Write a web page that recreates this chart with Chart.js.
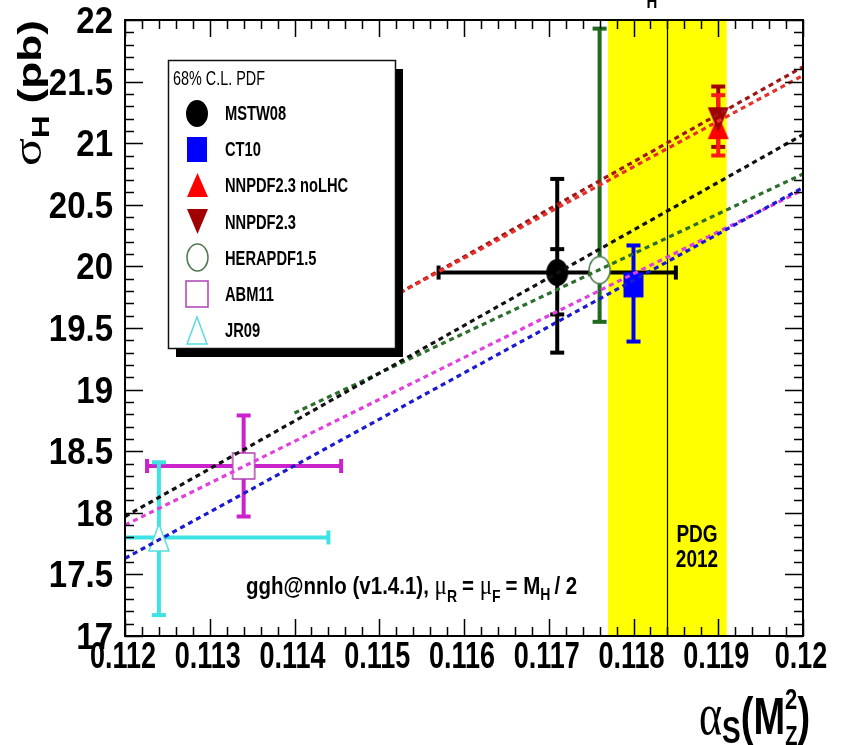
<!DOCTYPE html>
<html>
<head>
<meta charset="utf-8">
<script src="https://cdn.jsdelivr.net/npm/chart.js@4/dist/chart.umd.min.js"></script>
<style>
  html, body { margin: 0; padding: 0; background: #ffffff; }
  canvas { display: block; }
</style>
</head>
<body>
<canvas id="c" width="844" height="745"></canvas>
<script>
// ---- data: ggH cross section vs alpha_s for each PDF set ----
const pdfNames  = ['MSTW08', 'CT10', 'NNPDF2.3 noLHC', 'NNPDF2.3', 'HERAPDF1.5', 'ABM11', 'JR09'];
const alphaS    = [0.1171, 0.1180, 0.1190, 0.1190, 0.1176, 0.1134, 0.1124];
const sigmaH    = [19.95, 19.85, 21.13, 21.19, 19.97, 18.38, 17.80];
const sigmaUp   = [20.71, 20.17, 21.39, 21.46, 21.93, 18.79, 18.41];
const sigmaDown = [19.30, 19.39, 20.90, 20.97, 19.55, 17.97, 17.17];
const alphaLow  = [0.1157, null, null, null, null, 0.11226, 0.1104];
const alphaHigh = [0.1185, null, null, null, null, 0.11455, 0.1144];
// inner (PDF only) caps of the MSTW08 band
const mstwInnerDown = 19.61;
const mstwInnerUp   = 20.14;

// linear sigma(alpha_s) dependence of each set
const fitNames     = ['MSTW08', 'CT10', 'NNPDF2.3 noLHC', 'NNPDF2.3', 'HERAPDF1.5', 'ABM11'];
const fitAlphaFrom = [0.112, 0.112, 0.1145, 0.1145, 0.114, 0.112];
const fitAlphaTo   = [0.120, 0.120, 0.120, 0.120, 0.120, 0.120];
const fitSigmaFrom = [17.97, 17.63, 19.51, 19.50, 18.81, 17.90];
const fitSigmaTo   = [21.07, 20.64, 21.55, 21.62, 20.75, 20.62];

// PDG 2012 world average
const pdgAlpha = 0.1184;
const pdgLow   = 0.1177;
const pdgHigh  = 0.1191;

const xTickLabels = ['0.112', '0.113', '0.114', '0.115', '0.116', '0.117', '0.118', '0.119', '0.12'];
const yTickLabels = ['17', '17.5', '18', '18.5', '19', '19.5', '20', '20.5', '21', '21.5', '22'];

// ---- styles ----
const barColors  = ['#000000', '#0000ee', '#ff1a1a', '#a30000', '#1f6a1f', '#cc22cc', '#3fe3e3'];
const lineColors = ['#111111', '#1a1ad0', '#e8302a', '#a01515', '#2c6e2c', '#e040e0'];
const SANS  = '"Liberation Sans", Arial, Helvetica, sans-serif';
const SERIF = '"Liberation Serif", "DejaVu Serif", serif';

function makeMarker(shape, w, h, fill, stroke, lw) {
  const c = document.createElement('canvas');
  c.width = w + 4; c.height = h + 4;
  const g = c.getContext('2d');
  const cx = c.width / 2, cy = c.height / 2;
  g.beginPath();
  if (shape === 'circle') g.ellipse(cx, cy, w / 2, h / 2, 0, 0, Math.PI * 2);
  else if (shape === 'square') g.rect(cx - w / 2, cy - h / 2, w, h);
  else if (shape === 'up') { g.moveTo(cx, cy - h / 2); g.lineTo(cx + w / 2, cy + h / 2); g.lineTo(cx - w / 2, cy + h / 2); g.closePath(); }
  else if (shape === 'down') { g.moveTo(cx, cy + h / 2); g.lineTo(cx + w / 2, cy - h / 2); g.lineTo(cx - w / 2, cy - h / 2); g.closePath(); }
  if (fill) { g.fillStyle = fill; g.fill(); }
  if (stroke) { g.lineWidth = lw; g.strokeStyle = stroke; g.stroke(); }
  return c;
}

const markers = [
  makeMarker('circle', 22, 27, '#000000', null, 0),
  makeMarker('square', 20, 25, '#0000ff', null, 0),
  makeMarker('up',     21, 24, '#ff0000', null, 0),
  makeMarker('down',   21, 25, '#a00000', null, 0),
  makeMarker('circle', 21, 27, '#ffffff', '#4f7a4f', 1.5),
  makeMarker('square', 22, 26, '#ffffff', '#b040b0', 1.5),
  makeMarker('up',     20, 27, '#ffffff', '#55dddd', 1.5)
];

// text with a stretch factor (sx along the line, sy across it)
function sText(ctx, str, x, y, px, bold, sy, align, family, sx) {
  ctx.save();
  ctx.translate(x, y);
  ctx.scale(sx || 1, sy);
  ctx.font = (bold ? 'bold ' : '') + px + 'px ' + (family || SANS);
  ctx.textAlign = align || 'left';
  ctx.textBaseline = 'alphabetic';
  ctx.fillStyle = '#000';
  ctx.fillText(str, 0, 0);
  ctx.restore();
}

// sequence of text runs: {t, px, bold, dy, gap, family}
function richText(ctx, runs, x, y, sy, sx) {
  let cx = x;
  const k = sx || 1;
  runs.forEach(r => {
    ctx.save();
    ctx.font = (r.bold ? 'bold ' : '') + r.px + 'px ' + (r.family || SANS);
    const w = ctx.measureText(r.t).width * k;
    ctx.restore();
    sText(ctx, r.t, cx, y + (r.dy || 0), r.px, r.bold, sy, 'left', r.family, k);
    cx += w + (r.gap || 0);
  });
}

// ---- datasets ----
const datasets = [];
fitNames.forEach((n, i) => {
  datasets.push({
    type: 'line',
    label: n + ' fit',
    data: [{ x: fitAlphaFrom[i], y: fitSigmaFrom[i] }, { x: fitAlphaTo[i], y: fitSigmaTo[i] }],
    borderColor: lineColors[i],
    borderWidth: 3.2,
    borderDash: [5, 4],
    pointRadius: 0,
    fill: false,
    order: 0
  });
});
// dark red drawn before red so the up triangle sits on top
const pointOrder = [0, 1, 3, 2, 4, 5, 6];
pointOrder.forEach(i => {
  datasets.push({
    type: 'scatter',
    label: pdfNames[i],
    data: [{ x: alphaS[i], y: sigmaH[i] }],
    pointStyle: markers[i],
    pointRadius: 12,
    order: 1
  });
});

// ---- plugins ----
const bandAndBars = {
  id: 'bandAndBars',
  beforeDatasetsDraw(chart) {
    const { ctx, chartArea: a, scales: { x, y } } = chart;
    ctx.save();
    ctx.beginPath(); ctx.rect(a.left, a.top, a.right - a.left, a.bottom - a.top); ctx.clip();
    // PDG band
    ctx.fillStyle = '#ffff00';
    ctx.fillRect(x.getPixelForValue(pdgLow), a.top, x.getPixelForValue(pdgHigh) - x.getPixelForValue(pdgLow), a.bottom - a.top);
    ctx.strokeStyle = '#000'; ctx.lineWidth = 1.2;
    ctx.beginPath();
    ctx.moveTo(Math.round(x.getPixelForValue(pdgAlpha)) + 0.5, a.top);
    ctx.lineTo(Math.round(x.getPixelForValue(pdgAlpha)) + 0.5, a.bottom);
    ctx.stroke();
    // error bars
    const cap = 7;
    const hbar = (px, py) => { ctx.beginPath(); ctx.moveTo(px - cap, py); ctx.lineTo(px + cap, py); ctx.stroke(); };
    const vbar = (px, py) => { ctx.beginPath(); ctx.moveTo(px, py - cap); ctx.lineTo(px, py + cap); ctx.stroke(); };
    pointOrder.forEach(i => {
      ctx.strokeStyle = barColors[i];
      ctx.lineWidth = 4;
      ctx.lineCap = 'butt';
      const px = x.getPixelForValue(alphaS[i]);
      const py = y.getPixelForValue(sigmaH[i]);
      const pu = y.getPixelForValue(sigmaUp[i]);
      const pd = y.getPixelForValue(sigmaDown[i]);
      ctx.beginPath(); ctx.moveTo(px, pu); ctx.lineTo(px, pd); ctx.stroke();
      hbar(px, pu); hbar(px, pd);
      if (alphaLow[i] !== null) {
        const pl = x.getPixelForValue(alphaLow[i]);
        const ph = x.getPixelForValue(alphaHigh[i]);
        ctx.beginPath(); ctx.moveTo(pl, py); ctx.lineTo(ph, py); ctx.stroke();
        vbar(pl, py); vbar(ph, py);
      }
      if (i === 0) {
        hbar(px, y.getPixelForValue(mstwInnerUp));
        hbar(px, y.getPixelForValue(mstwInnerDown));
      }
    });
    ctx.restore();
  }
};

const legendBox = {
  id: 'legendBox',
  afterDatasetsDraw(chart) {
    const ctx = chart.ctx;
    const L = 168, T = 60, W = 227, H = 288;
    ctx.save();
    ctx.fillStyle = '#000';
    ctx.fillRect(L + 8, T + 9, W, H);
    ctx.fillStyle = '#fff';
    ctx.fillRect(L, T, W, H);
    ctx.strokeStyle = '#111'; ctx.lineWidth = 1.5;
    ctx.strokeRect(L + 0.5, T + 0.5, W, H);
    sText(ctx, '68% C.L. PDF', L + 5, T + 25, 14.4, false, 1.35);
    pdfNames.forEach((n, i) => {
      const cy = T + 53 + i * 36.2;
      const m = markers[i];
      ctx.drawImage(m, Math.round(197 - m.width / 2), Math.round(cy - m.height / 2));
      sText(ctx, n, 225, cy + 7, 14.7, true, 1.35);
    });
    ctx.restore();
  }
};

const frameAndText = {
  id: 'frameAndText',
  afterDraw(chart) {
    const { ctx, chartArea: a, scales: { x, y } } = chart;
    ctx.save();
    ctx.strokeStyle = '#000';
    // ticks on all four sides, pointing inward
    ctx.lineWidth = 1.5;
    const xMajor = xTickLabels.map(Number);
    for (let k = 0; k <= 40; k++) {
      const v = 0.112 + k * 0.0002;
      const len = k % 5 === 0 ? 17 : 9;
      const px = Math.round(x.getPixelForValue(v)) + 0.5;
      ctx.beginPath();
      ctx.moveTo(px, a.bottom); ctx.lineTo(px, a.bottom - len);
      ctx.moveTo(px, a.top); ctx.lineTo(px, a.top + len);
      ctx.stroke();
    }
    for (let k = 0; k <= 50; k++) {
      const v = 17 + k * 0.1;
      const len = k % 5 === 0 ? 18 : 9;
      const py = Math.round(y.getPixelForValue(v)) + 0.5;
      ctx.beginPath();
      ctx.moveTo(a.left, py); ctx.lineTo(a.left + len, py);
      ctx.moveTo(a.right, py); ctx.lineTo(a.right - len, py);
      ctx.stroke();
    }
    ctx.lineWidth = 2;
    ctx.strokeRect(a.left, a.top, a.right - a.left, a.bottom - a.top);

    // tick labels
    xTickLabels.forEach((t, k) => {
      sText(ctx, t, x.getPixelForValue(xMajor[k]) - 2, a.bottom + 32, 27, true, 1.38, 'center');
    });
    yTickLabels.forEach(t => {
      sText(ctx, t, a.left - 12, y.getPixelForValue(Number(t)) + 13, 33, true, 1.1, 'right');
    });

    // y axis title, reading upward
    ctx.save();
    ctx.translate(41, 166);
    ctx.rotate(-Math.PI / 2);
    richText(ctx, [
      { t: '\u03c3', px: 40, bold: false, family: SERIF },
      { t: 'H', px: 24, bold: true, dy: 8, gap: 12 },
      { t: '(pb)', px: 34, bold: true }
    ], 0, 0, 1, 1.3);
    ctx.restore();

    // x axis title
    richText(ctx, [
      { t: '\u03b1', px: 44, bold: false, family: SERIF },
      { t: 'S', px: 28, bold: true, dy: 9 },
      { t: '(M', px: 38, bold: true },
      { t: '2', px: 22, bold: true, dy: -25, gap: -12 },
      { t: 'Z', px: 20, bold: true, dy: 11 },
      { t: ')', px: 38, bold: true }
    ], 699, 734, 1.35);

    // annotations
    richText(ctx, [
      { t: 'ggh@nnlo (v1.4.1), ', px: 20.5, bold: true },
      { t: '\u03bc', px: 23, bold: false, family: SERIF },
      { t: 'R', px: 14, bold: true, dy: 8, gap: 5 },
      { t: '= ', px: 20.5, bold: true },
      { t: '\u03bc', px: 23, bold: false, family: SERIF },
      { t: 'F', px: 14, bold: true, dy: 8, gap: 5 },
      { t: '= M', px: 20.5, bold: true },
      { t: 'H', px: 14, bold: true, dy: 6, gap: 4 },
      { t: '/ 2', px: 20.5, bold: true }
    ], 246, 594, 1.15);

    sText(ctx, 'PDG', 697, 542, 19, true, 1.25, 'center');
    sText(ctx, '2012', 697, 567, 19, true, 1.25, 'center');

    // subscript of the cut title above the frame
    sText(ctx, 'H', 652, 8, 15, true, 1.35, 'center');
    ctx.restore();
  }
};

new Chart(document.getElementById('c'), {
  type: 'scatter',
  data: { datasets },
  options: {
    responsive: false,
    devicePixelRatio: 1,
    animation: false,
    layout: { padding: { left: 125, right: 41, top: 20, bottom: 109 } },
    plugins: { legend: { display: false }, tooltip: { enabled: false } },
    scales: {
      x: { type: 'linear', min: 0.112, max: 0.12, display: false },
      y: { type: 'linear', min: 17, max: 22, display: false }
    }
  },
  plugins: [bandAndBars, legendBox, frameAndText]
});
</script>
</body>
</html>
